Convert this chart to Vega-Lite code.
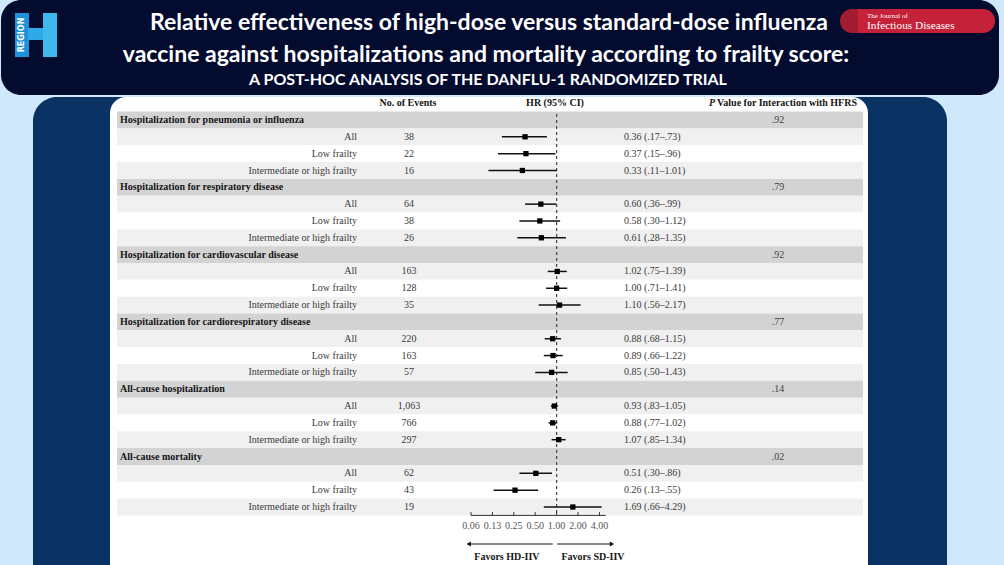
{
  "$schema": "https://vega.github.io/schema/vega-lite/v6.json",
  "width": 1004,
  "height": 565,
  "padding": 0,
  "autosize": {"type": "none"},
  "background": "#cfe8fb",
  "config": {"view": {"stroke": null}},
  "datasets": {
    "rows": [
      {"row": 0, "level": "header", "label": "Hospitalization for pneumonia or influenza", "p": ".92"},
      {"row": 1, "level": "All", "label": "All", "events": "38", "hr": 0.36, "lo": 0.17, "hi": 0.73, "est": "0.36 (.17–.73)"},
      {"row": 2, "level": "Low frailty", "label": "Low frailty", "events": "22", "hr": 0.37, "lo": 0.15, "hi": 0.96, "est": "0.37 (.15–.96)"},
      {"row": 3, "level": "Intermediate or high frailty", "label": "Intermediate or high frailty", "events": "16", "hr": 0.33, "lo": 0.11, "hi": 1.01, "est": "0.33 (.11–1.01)"},
      {"row": 4, "level": "header", "label": "Hospitalization for respiratory disease", "p": ".79"},
      {"row": 5, "level": "All", "label": "All", "events": "64", "hr": 0.60, "lo": 0.36, "hi": 0.99, "est": "0.60 (.36–.99)"},
      {"row": 6, "level": "Low frailty", "label": "Low frailty", "events": "38", "hr": 0.58, "lo": 0.30, "hi": 1.12, "est": "0.58 (.30–1.12)"},
      {"row": 7, "level": "Intermediate or high frailty", "label": "Intermediate or high frailty", "events": "26", "hr": 0.61, "lo": 0.28, "hi": 1.35, "est": "0.61 (.28–1.35)"},
      {"row": 8, "level": "header", "label": "Hospitalization for cardiovascular disease", "p": ".92"},
      {"row": 9, "level": "All", "label": "All", "events": "163", "hr": 1.02, "lo": 0.75, "hi": 1.39, "est": "1.02 (.75–1.39)"},
      {"row": 10, "level": "Low frailty", "label": "Low frailty", "events": "128", "hr": 1.00, "lo": 0.71, "hi": 1.41, "est": "1.00 (.71–1.41)"},
      {"row": 11, "level": "Intermediate or high frailty", "label": "Intermediate or high frailty", "events": "35", "hr": 1.10, "lo": 0.56, "hi": 2.17, "est": "1.10 (.56–2.17)"},
      {"row": 12, "level": "header", "label": "Hospitalization for cardiorespiratory disease", "p": ".77"},
      {"row": 13, "level": "All", "label": "All", "events": "220", "hr": 0.88, "lo": 0.68, "hi": 1.15, "est": "0.88 (.68–1.15)"},
      {"row": 14, "level": "Low frailty", "label": "Low frailty", "events": "163", "hr": 0.89, "lo": 0.66, "hi": 1.22, "est": "0.89 (.66–1.22)"},
      {"row": 15, "level": "Intermediate or high frailty", "label": "Intermediate or high frailty", "events": "57", "hr": 0.85, "lo": 0.50, "hi": 1.43, "est": "0.85 (.50–1.43)"},
      {"row": 16, "level": "header", "label": "All-cause hospitalization", "p": ".14"},
      {"row": 17, "level": "All", "label": "All", "events": "1,063", "hr": 0.93, "lo": 0.83, "hi": 1.05, "est": "0.93 (.83–1.05)"},
      {"row": 18, "level": "Low frailty", "label": "Low frailty", "events": "766", "hr": 0.88, "lo": 0.77, "hi": 1.02, "est": "0.88 (.77–1.02)"},
      {"row": 19, "level": "Intermediate or high frailty", "label": "Intermediate or high frailty", "events": "297", "hr": 1.07, "lo": 0.85, "hi": 1.34, "est": "1.07 (.85–1.34)"},
      {"row": 20, "level": "header", "label": "All-cause mortality", "p": ".02"},
      {"row": 21, "level": "All", "label": "All", "events": "62", "hr": 0.51, "lo": 0.30, "hi": 0.86, "est": "0.51 (.30–.86)"},
      {"row": 22, "level": "Low frailty", "label": "Low frailty", "events": "43", "hr": 0.26, "lo": 0.13, "hi": 0.55, "est": "0.26 (.13–.55)"},
      {"row": 23, "level": "Intermediate or high frailty", "label": "Intermediate or high frailty", "events": "19", "hr": 1.69, "lo": 0.66, "hi": 4.29, "est": "1.69 (.66–4.29)"}
    ],
    "ticks": [
      {"tick": 0.0625, "label": "0.06"},
      {"tick": 0.125, "label": "0.13"},
      {"tick": 0.25, "label": "0.25"},
      {"tick": 0.5, "label": "0.50"},
      {"tick": 1, "label": "1.00"},
      {"tick": 2, "label": "2.00"},
      {"tick": 4, "label": "4.00"}
    ]
  },
  "resolve": {"scale": {"x": "independent", "y": "independent"}, "axis": {"x": "independent", "y": "independent"}},
  "layer": [
    {
      "data": {"values": [{}]},
      "layer": [
        {"mark": {"type": "rect", "fill": "#030b2f", "cornerRadius": 20},
         "encoding": {
           "x": {"datum": 1, "type": "quantitative", "scale": {"domain": [0, 1004], "range": [0, 1004], "nice": false, "zero": false}, "axis": null},
           "x2": {"datum": 999},
           "y": {"datum": 0, "type": "quantitative", "scale": {"domain": [0, 565], "range": [0, 565], "nice": false, "zero": false}, "axis": null},
           "y2": {"datum": 95}}},
        {"mark": {"type": "rect", "fill": "#0a3262", "cornerRadiusTopLeft": 24, "cornerRadiusTopRight": 24},
         "encoding": {"x": {"datum": 33, "type": "quantitative", "axis": null}, "x2": {"datum": 947}, "y": {"datum": 97, "type": "quantitative", "axis": null}, "y2": {"datum": 565}}},
        {"mark": {"type": "rect", "fill": "#ffffff", "cornerRadiusTopLeft": 16, "cornerRadiusTopRight": 16},
         "encoding": {"x": {"datum": 110, "type": "quantitative", "axis": null}, "x2": {"datum": 868}, "y": {"datum": 97, "type": "quantitative", "axis": null}, "y2": {"datum": 565}}},
        {"mark": {"type": "rect", "fill": "#1e92d8"},
         "encoding": {"x": {"datum": 15, "type": "quantitative", "axis": null}, "x2": {"datum": 29}, "y": {"datum": 13, "type": "quantitative", "axis": null}, "y2": {"datum": 57}}},
        {"mark": {"type": "rect", "fill": "#2fa9e8"},
         "encoding": {"x": {"datum": 28, "type": "quantitative", "axis": null}, "x2": {"datum": 44}, "y": {"datum": 28, "type": "quantitative", "axis": null}, "y2": {"datum": 40}}},
        {"mark": {"type": "rect", "fill": "#3db9ee"},
         "encoding": {"x": {"datum": 43, "type": "quantitative", "axis": null}, "x2": {"datum": 57}, "y": {"datum": 13, "type": "quantitative", "axis": null}, "y2": {"datum": 57}}},
        {"mark": {"type": "text", "text": "REGION", "angle": 270, "fill": "#ffffff", "font": "DejaVu Sans", "fontWeight": "bold", "fontSize": 8, "align": "center", "baseline": "middle"},
         "encoding": {"x": {"datum": 22, "type": "quantitative", "axis": null}, "y": {"datum": 35, "type": "quantitative", "axis": null}}},
        {"mark": {"type": "rect", "fill": "#a31b30", "cornerRadius": 12},
         "encoding": {"x": {"datum": 840, "type": "quantitative", "axis": null}, "x2": {"datum": 872}, "y": {"datum": 9, "type": "quantitative", "axis": null}, "y2": {"datum": 33}}},
        {"mark": {"type": "rect", "fill": "#c52139", "cornerRadiusTopRight": 12, "cornerRadiusBottomRight": 12},
         "encoding": {"x": {"datum": 858, "type": "quantitative", "axis": null}, "x2": {"datum": 995}, "y": {"datum": 9, "type": "quantitative", "axis": null}, "y2": {"datum": 33}}},
        {"mark": {"type": "text", "text": "The Journal of", "fill": "#ffffff", "font": "Liberation Serif", "fontSize": 7, "align": "left", "baseline": "middle"},
         "encoding": {"x": {"datum": 867, "type": "quantitative", "axis": null}, "y": {"datum": 16, "type": "quantitative", "axis": null}}},
        {"mark": {"type": "text", "text": "Infectious Diseases", "fill": "#ffffff", "font": "Liberation Serif", "fontSize": 11.3, "align": "left", "baseline": "middle"},
         "encoding": {"x": {"datum": 867, "type": "quantitative", "axis": null}, "y": {"datum": 26, "type": "quantitative", "axis": null}}},
        {"mark": {"type": "text", "text": "Relative effectiveness of high-dose versus standard-dose influenza", "fill": "#ffffff", "font": "Lato", "fontWeight": "bold", "fontSize": 23, "align": "center", "baseline": "middle"},
         "encoding": {"x": {"datum": 489, "type": "quantitative", "axis": null}, "y": {"datum": 23, "type": "quantitative", "axis": null}}},
        {"mark": {"type": "text", "text": "vaccine against hospitalizations and mortality according to frailty score:", "fill": "#ffffff", "font": "Lato", "fontWeight": "bold", "fontSize": 23, "align": "center", "baseline": "middle"},
         "encoding": {"x": {"datum": 486, "type": "quantitative", "axis": null}, "y": {"datum": 55, "type": "quantitative", "axis": null}}},
        {"mark": {"type": "text", "text": "A POST-HOC ANALYSIS OF THE DANFLU-1 RANDOMIZED TRIAL", "fill": "#ffffff", "font": "Lato", "fontWeight": "bold", "fontSize": 16, "align": "center", "baseline": "middle"},
         "encoding": {"x": {"datum": 488, "type": "quantitative", "axis": null}, "y": {"datum": 80, "type": "quantitative", "axis": null}}}
      ]
    },
    {
      "data": {"name": "rows"},
      "layer": [
        {"mark": {"type": "rect"},
         "encoding": {
           "x": {"datum": 117, "type": "quantitative", "scale": {"domain": [0, 1004], "range": [0, 1004], "nice": false, "zero": false}, "axis": null},
           "x2": {"datum": 863},
           "y": {"field": "row", "type": "ordinal", "scale": {"type": "band", "domain": [-1,0,1,2,3,4,5,6,7,8,9,10,11,12,13,14,15,16,17,18,19,20,21,22,23], "range": [94.8, 515.4], "paddingInner": 0, "paddingOuter": 0}, "axis": null},
           "color": {"field": "level", "type": "nominal", "scale": {"domain": ["header", "All", "Low frailty", "Intermediate or high frailty"], "range": ["#d3d3d3", "#f0f0f0", "#ffffff", "#f0f0f0"]}, "legend": null}}},
        {"transform": [{"filter": "datum.level == 'header'"}],
         "mark": {"type": "text", "font": "Liberation Serif", "fontWeight": "bold", "fontSize": 10, "fill": "#161616", "align": "left", "baseline": "middle"},
         "encoding": {"x": {"datum": 120, "type": "quantitative", "axis": null}, "y": {"field": "row", "type": "ordinal", "axis": null}, "text": {"field": "label"}}},
        {"transform": [{"filter": "datum.level == 'header'"}],
         "mark": {"type": "text", "font": "Liberation Serif", "fontSize": 10, "fill": "#444444", "align": "center", "baseline": "middle"},
         "encoding": {"x": {"datum": 778, "type": "quantitative", "axis": null}, "y": {"field": "row", "type": "ordinal", "axis": null}, "text": {"field": "p"}}},
        {"transform": [{"filter": "datum.level != 'header'"}],
         "mark": {"type": "text", "font": "Liberation Serif", "fontSize": 10, "fill": "#3a3a3a", "align": "right", "baseline": "middle"},
         "encoding": {"x": {"datum": 357, "type": "quantitative", "axis": null}, "y": {"field": "row", "type": "ordinal", "axis": null}, "text": {"field": "label"}}},
        {"transform": [{"filter": "datum.level != 'header'"}],
         "mark": {"type": "text", "font": "Liberation Serif", "fontSize": 10, "fill": "#3a3a3a", "align": "center", "baseline": "middle"},
         "encoding": {"x": {"datum": 409, "type": "quantitative", "axis": null}, "y": {"field": "row", "type": "ordinal", "axis": null}, "text": {"field": "events"}}},
        {"transform": [{"filter": "datum.level != 'header'"}],
         "mark": {"type": "text", "font": "Liberation Serif", "fontSize": 10, "fill": "#3a3a3a", "align": "left", "baseline": "middle"},
         "encoding": {"x": {"datum": 624, "type": "quantitative", "axis": null}, "y": {"field": "row", "type": "ordinal", "axis": null}, "text": {"field": "est"}}},
        {"data": {"values": [{}]},
         "mark": {"type": "text", "text": "No. of Events", "font": "Liberation Serif", "fontWeight": "bold", "fontSize": 10, "fill": "#161616", "align": "center", "baseline": "middle"},
         "encoding": {"x": {"datum": 408, "type": "quantitative", "axis": null}, "y": {"datum": -1, "type": "ordinal", "axis": null}}},
        {"data": {"values": [{}]},
         "mark": {"type": "text", "text": "HR (95% CI)", "font": "Liberation Serif", "fontWeight": "bold", "fontSize": 10, "fill": "#161616", "align": "center", "baseline": "middle"},
         "encoding": {"x": {"datum": 555, "type": "quantitative", "axis": null}, "y": {"datum": -1, "type": "ordinal", "axis": null}}},
        {"data": {"values": [{}]},
         "mark": {"type": "text", "text": "P", "font": "Liberation Serif", "fontWeight": "bold", "fontStyle": "italic", "fontSize": 10, "fill": "#161616", "align": "left", "baseline": "middle"},
         "encoding": {"x": {"datum": 709, "type": "quantitative", "axis": null}, "y": {"datum": -1, "type": "ordinal", "axis": null}}},
        {"data": {"values": [{}]},
         "mark": {"type": "text", "text": "Value for Interaction with HFRS", "font": "Liberation Serif", "fontWeight": "bold", "fontSize": 10, "fill": "#161616", "align": "left", "baseline": "middle"},
         "encoding": {"x": {"datum": 717, "type": "quantitative", "axis": null}, "y": {"datum": -1, "type": "ordinal", "axis": null}}}
      ]
    },
    {
      "data": {"name": "rows"},
      "transform": [{"filter": "datum.level != 'header'"}],
      "layer": [
        {"data": {"values": [{}]},
         "mark": {"type": "rule", "stroke": "#444444", "strokeWidth": 1.2, "strokeDash": [3, 3]},
         "encoding": {
           "x": {"datum": 1, "type": "quantitative", "scale": {"type": "log", "base": 2, "domain": [0.0625, 4.9], "range": [471, 605.7], "nice": false, "zero": false}, "axis": null},
           "y": {"datum": -0.35, "type": "quantitative", "scale": {"domain": [0, 23], "range": [120, 507], "nice": false, "zero": false}, "axis": null},
           "y2": {"datum": 23.5}}},
        {"mark": {"type": "rule", "stroke": "#111111", "strokeWidth": 1.5},
         "encoding": {
           "x": {"field": "lo", "type": "quantitative", "axis": null},
           "x2": {"field": "hi"},
           "y": {"field": "row", "type": "quantitative", "axis": null}}},
        {"mark": {"type": "point", "shape": "square", "filled": true, "fill": "#000000", "size": 28, "opacity": 1},
         "encoding": {
           "x": {"field": "hr", "type": "quantitative", "axis": null},
           "y": {"field": "row", "type": "quantitative", "axis": null}}},
        {"data": {"values": [{}]},
         "mark": {"type": "rule", "stroke": "#333333", "strokeWidth": 1},
         "encoding": {"x": {"datum": 0.0625, "type": "quantitative", "axis": null}, "x2": {"datum": 4.9}, "y": {"datum": 23.5, "type": "quantitative", "axis": null}}},
        {"data": {"name": "ticks"},
         "mark": {"type": "rule", "stroke": "#333333", "strokeWidth": 1},
         "encoding": {"x": {"field": "tick", "type": "quantitative", "axis": null}, "y": {"datum": 23.3, "type": "quantitative", "axis": null}, "y2": {"datum": 23.5}}},
        {"data": {"name": "ticks"},
         "mark": {"type": "text", "font": "Liberation Serif", "fontSize": 10, "fill": "#555555", "align": "center", "baseline": "middle"},
         "encoding": {"x": {"field": "tick", "type": "quantitative", "axis": null}, "y": {"datum": 24.12, "type": "quantitative", "axis": null}, "text": {"field": "label"}}},
        {"data": {"values": [{}]},
         "mark": {"type": "rule", "stroke": "#111111", "strokeWidth": 1.2},
         "encoding": {"x": {"datum": 0.88, "type": "quantitative", "axis": null}, "x2": {"datum": 0.06}, "y": {"datum": 25.2, "type": "quantitative", "axis": null}}},
        {"data": {"values": [{}]},
         "mark": {"type": "point", "shape": "triangle-left", "filled": true, "fill": "#111111", "size": 25, "opacity": 1},
         "encoding": {"x": {"datum": 0.058, "type": "quantitative", "axis": null}, "y": {"datum": 25.2, "type": "quantitative", "axis": null}}},
        {"data": {"values": [{}]},
         "mark": {"type": "rule", "stroke": "#111111", "strokeWidth": 1.2},
         "encoding": {"x": {"datum": 1.02, "type": "quantitative", "axis": null}, "x2": {"datum": 5.8}, "y": {"datum": 25.2, "type": "quantitative", "axis": null}}},
        {"data": {"values": [{}]},
         "mark": {"type": "point", "shape": "triangle-right", "filled": true, "fill": "#111111", "size": 25, "opacity": 1},
         "encoding": {"x": {"datum": 6.0, "type": "quantitative", "axis": null}, "y": {"datum": 25.2, "type": "quantitative", "axis": null}}},
        {"data": {"values": [{}]},
         "mark": {"type": "text", "text": "Favors HD-IIV", "font": "Liberation Serif", "fontWeight": "bold", "fontSize": 10, "fill": "#161616", "align": "center", "baseline": "middle"},
         "encoding": {"x": {"datum": 0.2, "type": "quantitative", "axis": null}, "y": {"datum": 25.95, "type": "quantitative", "axis": null}}},
        {"data": {"values": [{}]},
         "mark": {"type": "text", "text": "Favors SD-IIV", "font": "Liberation Serif", "fontWeight": "bold", "fontSize": 10, "fill": "#161616", "align": "center", "baseline": "middle"},
         "encoding": {"x": {"datum": 3.25, "type": "quantitative", "axis": null}, "y": {"datum": 25.95, "type": "quantitative", "axis": null}}}
      ]
    }
  ]
}
